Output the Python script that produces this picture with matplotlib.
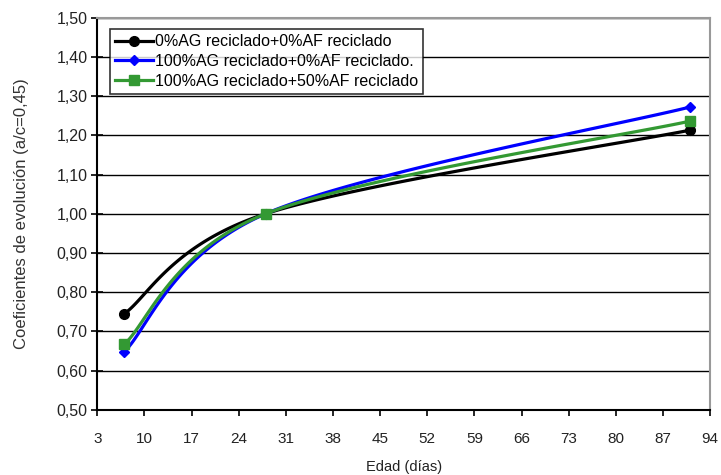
import numpy as np
import matplotlib
matplotlib.use("Agg")
import matplotlib.pyplot as plt
from matplotlib.ticker import FuncFormatter

plt.rcParams['font.family'] = ['Liberation Sans', 'DejaVu Sans']

edad = [7, 28, 91]
serie_0ag_0af = [0.745, 1.00, 1.213]
serie_100ag_0af = [0.648, 1.00, 1.272]
serie_100ag_50af = [0.667, 1.00, 1.236]
etiquetas = ['0%AG reciclado+0%AF reciclado',
             '100%AG reciclado+0%AF reciclado.',
             '100%AG reciclado+50%AF reciclado']


def suavizar(x, y, n=60):
    # Excel-like smoothed line (Bezier through the points)
    x = np.asarray(x, float)
    y = np.asarray(y, float)
    px, py = [], []
    for i in range(len(x) - 1):
        x0, y0 = (x[i - 1], y[i - 1]) if i > 0 else (x[i], y[i])
        x3, y3 = (x[i + 2], y[i + 2]) if i + 2 < len(x) else (x[i + 1], y[i + 1])
        c1 = (x[i] + (x[i + 1] - x0) / 6, y[i] + (y[i + 1] - y0) / 6)
        c2 = (x[i + 1] - (x3 - x[i]) / 6, y[i + 1] - (y3 - y[i]) / 6)
        t = np.linspace(0, 1, n)
        bx = (1 - t) ** 3 * x[i] + 3 * (1 - t) ** 2 * t * c1[0] + 3 * (1 - t) * t ** 2 * c2[0] + t ** 3 * x[i + 1]
        by = (1 - t) ** 3 * y[i] + 3 * (1 - t) ** 2 * t * c1[1] + 3 * (1 - t) * t ** 2 * c2[1] + t ** 3 * y[i + 1]
        px.extend(bx)
        py.extend(by)
    return px, py


fig = plt.figure(figsize=(7.21, 4.75), dpi=100)
ax = fig.add_axes([0.135, 0.137, 0.85, 0.826])

series = [(serie_0ag_0af, 'black', 'o', 7),
          (serie_100ag_0af, '#0000ff', 'D', 5.5),
          (serie_100ag_50af, '#339933', 's', 7.5)]
for (vals, color, mk, ms), lab in zip(series, etiquetas):
    sx, sy = suavizar(edad, vals)
    ax.plot(sx, sy, color=color, lw=2.3)
    ax.plot(edad, vals, linestyle='none', marker=mk, color=color, markersize=ms)
    ax.plot([], [], color=color, lw=2.3, marker=mk, markersize=ms, label=lab)

ax.set_xlim(3, 94)
ax.set_ylim(0.5, 1.5)
ax.set_xticks(np.arange(3, 95, 7))
ax.set_yticks(np.arange(0.5, 1.51, 0.1))
ax.yaxis.set_major_formatter(FuncFormatter(lambda v, p: f'{v:.2f}'.replace('.', ',')))
ax.grid(axis='y', color='black', lw=1)
ax.tick_params(axis='y', direction='inout', length=8, width=1.2, labelsize=11.5, pad=3,
               labelcolor='#222222')
ax.tick_params(axis='x', direction='out', length=4, width=1.2, labelsize=11, pad=12,
               labelcolor='#222222')
ax.spines['left'].set_linewidth(1.5)
ax.spines['bottom'].set_linewidth(1.5)
ax.spines['right'].set_color('#999999')
ax.spines['top'].set_color('#999999')
ax.spines['right'].set_linewidth(1.5)
ax.spines['top'].set_linewidth(1.5)

ax.set_xlabel('Edad (días)', fontsize=10.5, labelpad=10, color='#222222')
ax.set_ylabel('Coeficientes de evolución (a/c=0,45)', fontsize=12, labelpad=20,
              color='#333333')

leg = ax.legend(loc='upper left', bbox_to_anchor=(0.008, 0.99), fontsize=11.5,
                frameon=True, fancybox=False, edgecolor='black', handlelength=2.4,
                handletextpad=0.1, borderpad=0.3, labelspacing=0.3)
leg.get_frame().set_linewidth(1.2)

fig.savefig('out.png', dpi=100)
